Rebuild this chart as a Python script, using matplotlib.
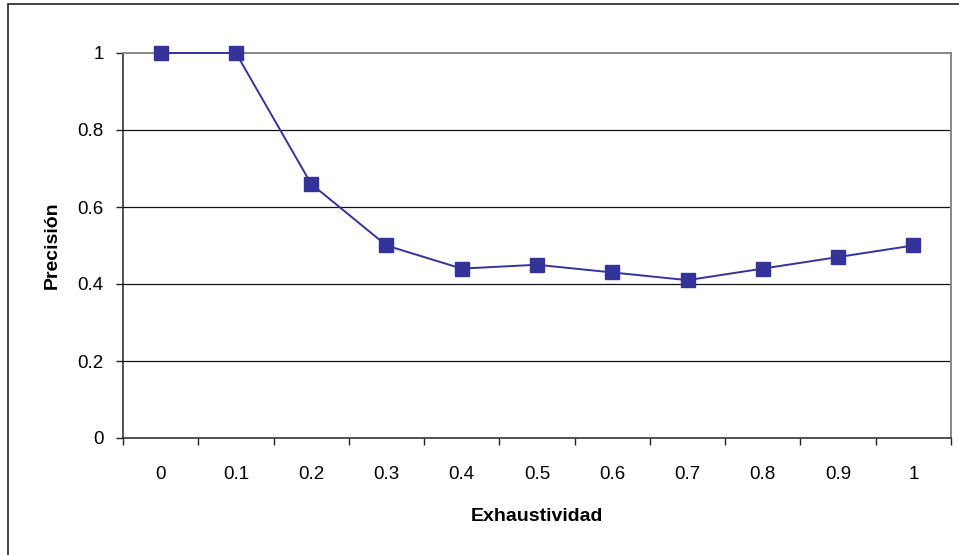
import matplotlib
matplotlib.use("Agg")
import matplotlib.pyplot as plt
from matplotlib.patches import Rectangle

categories = ["0", "0.1", "0.2", "0.3", "0.4", "0.5", "0.6", "0.7", "0.8", "0.9", "1"]
precision = [1.0, 1.0, 0.66, 0.50, 0.44, 0.45, 0.43, 0.41, 0.44, 0.47, 0.50]
yticks = [0, 0.2, 0.4, 0.6, 0.8, 1]
ytick_labels = ["0", "0.2", "0.4", "0.6", "0.8", "1"]

plt.rcParams['font.family'] = ['Liberation Sans', 'DejaVu Sans']

W, H = 959, 555
fig = plt.figure(figsize=(W / 100, H / 100), dpi=100)
ax = fig.add_axes([123 / W, (H - 438) / H, (951 - 123) / W, (438 - 53) / H])

# outer chart border
fig.patches.append(Rectangle((8 / W, -0.1), 1.2, (H - 4) / H + 0.1,
                             transform=fig.transFigure, fill=False,
                             edgecolor='#222222', linewidth=1.2))

x = list(range(len(categories)))
ax.plot(x, precision, color='#333399', linewidth=1.4, marker='s',
        markersize=9.5, markerfacecolor='#333399', markeredgecolor='#333399',
        zorder=5, clip_on=False)

ax.set_xlim(-0.5, len(categories) - 0.5)
ax.set_ylim(0, 1)

ax.set_yticks(yticks)
ax.set_yticklabels(ytick_labels)
for yv in yticks[1:-1]:
    ax.axhline(yv, color='#111111', linewidth=0.9, zorder=1)

ax.set_xticks(x)
ax.set_xticklabels(categories)
ax.set_xticks([i - 0.5 for i in range(len(categories) + 1)], minor=True)
ax.tick_params(axis='x', which='major', length=0, pad=20, labelsize=13.5)
ax.tick_params(axis='x', which='minor', length=5, width=1, color='#222222', direction='out')
ax.tick_params(axis='y', which='major', length=5, width=1, color='#222222',
               direction='out', pad=9, labelsize=13.5)

for s in ['left', 'bottom']:
    ax.spines[s].set_color('#222222')
    ax.spines[s].set_linewidth(1.1)
for s in ['top', 'right']:
    ax.spines[s].set_color('#888888')
    ax.spines[s].set_linewidth(1.4)

ax.set_xlabel("Exhaustividad", fontsize=14, fontweight='bold', labelpad=18)
ax.set_ylabel("Precisión", fontsize=14, fontweight='bold', labelpad=12)

fig.savefig("out.png", dpi=100)
